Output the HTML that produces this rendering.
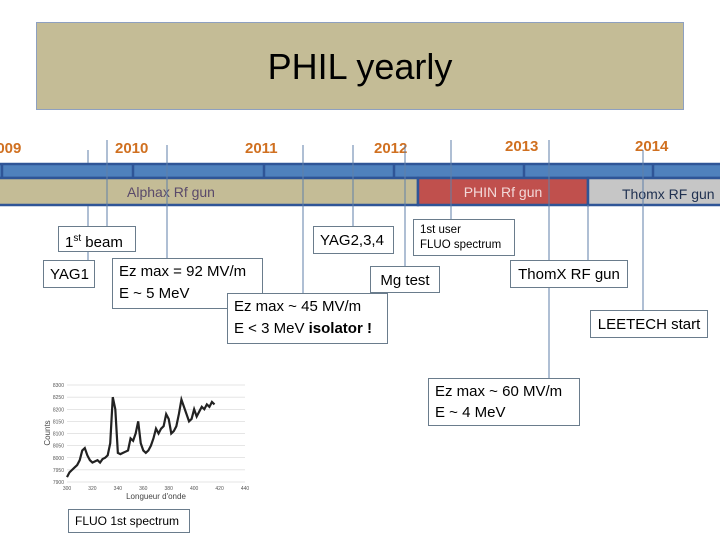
<!DOCTYPE html>
<html><head><meta charset="utf-8"><style>
body{margin:0;width:720px;height:540px;background:#fff;position:relative;overflow:hidden;font-family:"Liberation Sans",sans-serif}
.a{position:absolute}
.box{position:absolute;border:1.3px solid #6a7c8c;background:#fff;color:#000;font-size:15px;box-sizing:border-box;padding:3px 6px;line-height:22px}
.yr{position:absolute;color:#d07020;font-size:15px;font-weight:bold}
.vl{position:absolute;width:1px;background:#5f7fa8}
</style></head><body>
<div class="a" style="left:36px;top:22px;width:648px;height:88px;background:#c4bc96;border:1.5px solid #8ea0c0;box-sizing:border-box"></div>
<div class="a" style="left:36px;top:46px;width:648px;text-align:center;font-size:36px">PHIL yearly</div>

<div class="yr" style="left:-12px;top:140px">2009</div>
<div class="yr" style="left:115px;top:140px">2010</div>
<div class="yr" style="left:245px;top:140px">2011</div>
<div class="yr" style="left:374px;top:140px">2012</div>
<div class="yr" style="left:505px;top:138px">2013</div>
<div class="yr" style="left:635px;top:138px">2014</div>

<svg class="a" style="left:0;top:0" width="720" height="540">
<rect x="-5" y="164" width="730" height="14" fill="#4f81bd" stroke="#2f5597" stroke-width="2.5"/>
<g stroke="#2f5597" stroke-width="2.5"><line x1="2" y1="164" x2="2" y2="178"/><line x1="133" y1="164" x2="133" y2="178"/><line x1="264" y1="164" x2="264" y2="178"/><line x1="394" y1="164" x2="394" y2="178"/><line x1="524" y1="164" x2="524" y2="178"/><line x1="653" y1="164" x2="653" y2="178"/></g>
<rect x="-5" y="178" width="423" height="27" fill="#c4bc96" stroke="#2f5597" stroke-width="2.5"/>
<rect x="418" y="178" width="170" height="27" fill="#c0504d" stroke="#2f5597" stroke-width="2.5"/>
<rect x="588" y="178" width="140" height="27" fill="#c6c6c6" stroke="#2f5597" stroke-width="2.5"/>
<text x="171" y="197" font-size="14" fill="#5a4a6a" text-anchor="middle" font-family="Liberation Sans">Alphax Rf gun</text>
<text x="503" y="197" font-size="14" fill="#f2d8d8" text-anchor="middle" font-family="Liberation Sans">PHIN Rf gun</text>
<text x="622" y="199" font-size="14" fill="#1f3050" font-family="Liberation Sans">Thomx RF gun</text>
<g stroke="#5f7fa8" stroke-width="1">
<line x1="88" y1="150" x2="88" y2="163"/><line x1="88" y1="206" x2="88" y2="226"/><line x1="88" y1="252" x2="88" y2="262"/>
<line x1="107" y1="140" x2="107" y2="226"/>
<line x1="167" y1="145" x2="167" y2="258"/>
<line x1="303" y1="145" x2="303" y2="293"/>
<line x1="353" y1="145" x2="353" y2="226"/>
<line x1="405" y1="145" x2="405" y2="266"/>
<line x1="451" y1="140" x2="451" y2="219"/>
<line x1="549" y1="140" x2="549" y2="378"/>
<line x1="588" y1="205" x2="588" y2="260"/>
<line x1="643" y1="150" x2="643" y2="310"/>
</g>
</svg>

<div class="box" style="left:58px;top:226px;width:78px;height:26px;line-height:18px">1<sup style="font-size:10px">st</sup> beam</div>
<div class="box" style="left:43px;top:260px;width:52px;height:28px">YAG1</div>
<div class="box" style="left:112px;top:258px;width:151px;height:51px;line-height:22px;padding-top:2px">Ez max = 92 MV/m<br>E ~ 5 MeV</div>
<div class="box" style="left:313px;top:226px;width:81px;height:28px">YAG2,3,4</div>
<div class="box" style="left:413px;top:219px;width:102px;height:37px;font-size:11.5px;line-height:15px;padding:3px 6px">1st user<br>FLUO spectrum</div>
<div class="box" style="left:370px;top:266px;width:70px;height:27px;text-align:center">Mg test</div>
<div class="box" style="left:227px;top:293px;width:161px;height:51px;line-height:22px;padding-top:2px">Ez max ~ 45 MV/m<br>E &lt; 3 MeV <b>isolator !</b></div>
<div class="box" style="left:510px;top:260px;width:118px;height:28px;text-align:center">ThomX RF gun</div>
<div class="box" style="left:590px;top:310px;width:118px;height:28px;text-align:center">LEETECH start</div>
<div class="box" style="left:428px;top:378px;width:152px;height:48px;line-height:21px;padding-top:2px">Ez max ~ 60 MV/m<br>E ~ 4 MeV</div>
<div class="box" style="left:68px;top:509px;width:122px;height:24px;font-size:12px;line-height:16px">FLUO 1st spectrum</div>

<svg class="a" id="spec" style="left:40px;top:378px" width="220" height="125"></svg>
<script>
const xVals=[300,302,304,306,308,310,312,314,316,318,320,322,324,326,328,330,332,334,336,338,340,342,344,346,348,350,352,354,356,358,360,362,364,366,368,370,372,374,376,378,380,382,384,386,388,390,392,394,396,398,400,402,404,406,408,410,412,414,416];
const yVals=[7920,7940,7950,7960,7970,7990,8030,8040,8010,7990,7980,7985,7990,7980,7995,8000,8010,8060,8250,8200,8020,8015,8020,8025,8030,8080,8070,8100,8150,8060,8030,8020,8030,8050,8080,8120,8100,8120,8130,8180,8160,8100,8110,8130,8180,8240,8210,8180,8150,8160,8200,8170,8190,8210,8200,8220,8210,8230,8220];
const xTicks=[300,320,340,360,380,400,420,440];
const yTicks=[7900,7950,8000,8050,8100,8150,8200,8250,8300];
const NS='http://www.w3.org/2000/svg';
const svg=document.getElementById('spec');
const sx=v=>27+(v-300)/140*178, sy=v=>104-(v-7900)/400*97;
function mk(t,a){const e=document.createElementNS(NS,t);for(const k in a)e.setAttribute(k,a[k]);svg.appendChild(e);return e;}
yTicks.forEach(t=>{const l=mk('line',{x1:27,x2:205,y1:sy(t),y2:sy(t),stroke:'#ccc','stroke-width':0.6});


const tx=mk('text',{x:24,y:sy(t)+2,'font-size':5,'text-anchor':'end',fill:'#555'});tx.textContent=t;

});
xTicks.forEach(t=>{const tx=mk('text',{x:sx(t),y:112,'font-size':5,'text-anchor':'middle',fill:'#555'});tx.textContent=t;

});
const p=mk('polyline',{points:xVals.map((x,i)=>sx(x)+','+sy(yVals[i])).join(' '),fill:'none',stroke:'#222','stroke-width':2.2});


const xl=mk('text',{x:116,y:121,'font-size':8,'text-anchor':'middle',fill:'#444'});xl.textContent="Longueur d'onde";


const yl=mk('text',{x:10,y:55,'font-size':8,'text-anchor':'middle',fill:'#444',transform:'rotate(-90 10 55)'});yl.textContent='Counts';


</script>
</body></html>
